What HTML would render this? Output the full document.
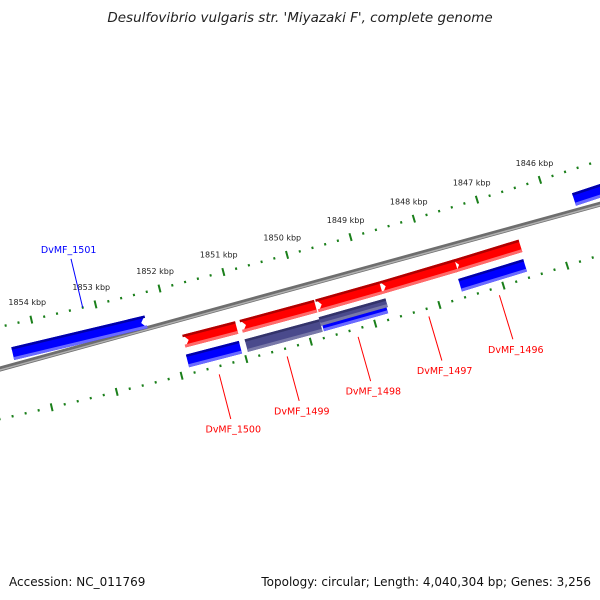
<!DOCTYPE html>
<html><head><meta charset="utf-8"><style>
html,body{margin:0;padding:0;background:#fff}
svg{display:block;font-family:"DejaVu Sans","Liberation Sans",sans-serif}
</style></head><body>
<svg id="map" width="600" height="600" viewBox="0 0 600 600">
<text x="300" y="22" text-anchor="middle" font-size="13.5" font-style="italic" fill="#222">Desulfovibrio vulgaris str. 'Miyazaki F', complete genome</text>
<text x="9" y="586" font-size="12" fill="#111">Accession: NC_011769</text>
<text x="591" y="586" text-anchor="end" font-size="12" fill="#111">Topology: circular; Length: 4,040,304 bp; Genes: 3,256</text>
<g id="ticks"></g><g id="backbone"></g><g id="genes"></g><g id="labels"></g>
</svg>
<script>
const tickMajor = [1846, 1847, 1848, 1849, 1850, 1851, 1852, 1853, 1854, 1855];
const tickLabels = ["1846 kbp","1847 kbp","1848 kbp","1849 kbp","1850 kbp","1851 kbp","1852 kbp","1853 kbp","1854 kbp",""];
const geneStart = [1854.39, 1851.84, 1851.86, 1850.95, 1849.77, 1849.77, 1848.77, 1847.62, 1847.62, 1845.6];
const geneEnd   = [1852.32, 1851.02, 1851.04, 1849.79, 1848.77, 1848.77, 1847.59, 1846.58, 1846.60, 1844.5];
const geneRing  = [-17, 11, 31, 11, 31, 11, 11, 11, 31, -17];
const geneColor = ["blue","red","blue","red","blue","red","red","red","blue","blue"];
const geneArrow = ["right","left","none","left","none","left","left","left","none","none"];
const geneNames = ["1501","1500r","1500b","1499r","1498b","1498r","1497r","1496r","1496b","1495b"];
const purpleStart = [1850.95, 1849.79];
const purpleEnd = [1849.79, 1848.75];
const purpleRing = [31, 27];
const labelNames = ["DvMF_1501","DvMF_1500","DvMF_1499","DvMF_1498","DvMF_1497","DvMF_1496"];
const labelKbp = [1853.2, 1851.45, 1850.4, 1849.3, 1848.2, 1847.1];
const labelColor = ["blue","red","red","red","red","red"];

const CX=-1449, CY=-6065, R=6600, T0=74.64*Math.PI/180, K=0.5765*Math.PI/180;
const NS="http://www.w3.org/2000/svg";
function ang(kbp){return T0+(kbp-1850)*K;}
function pt(kbp,off){const a=ang(kbp),r=R+off;return [CX+r*Math.cos(a),CY+r*Math.sin(a)];}
function mk(tag,parent,attrs){const e=document.createElementNS(NS,tag);for(const k in attrs)e.setAttribute(k,attrs[k]);document.getElementById(parent).appendChild(e);return e;}
function P(p){return p[0].toFixed(1)+","+p[1].toFixed(1);}

{const a=pt(1856,0),b=pt(1844,0);
let e=mk('line','backbone',{x1:a[0],y1:a[1],x2:b[0],y2:b[1],stroke:'#6e6e6e','stroke-width':5});


const c=pt(1856,1),d=pt(1844,1);
e=mk('line','backbone',{x1:c[0],y1:c[1],x2:d[0],y2:d[1],stroke:'#b0b0b0','stroke-width':1.5});

}

[-46,44].forEach(function(ring){
  for(let v=18440;v<=18560;v+=2){
    const kbp=v/10; const major=(v%10===0);
    const h=major?4:1.2;
    const a=pt(kbp,ring-h),b=pt(kbp,ring+h);
    if(a[0]<-10||a[0]>610)continue;
    const e=mk('line','ticks',{x1:a[0],y1:a[1],x2:b[0],y2:b[1],stroke:'#1a7f1a','stroke-width':2});
    
    
  }
});
tickMajor.forEach(function(k,i){
  if(!tickLabels[i])return;
  const p=pt(k,-64);
  const e=mk('text','ticks',{x:p[0],y:p[1]+3,'text-anchor':'middle','font-size':8,fill:'#222'});
  e.textContent=tickLabels[i];
  
  
});

const pal={red:['#b00000','#ff0000','#ff6a6a'],blue:['#0000a8','#0000ff','#6a6aff'],purple:['#33336a','#4a4a8c','#7878a8']};
function band(s,e,ring,h,color,arrow,name){
  const g=mk('g','genes',{});
  
  
  const c=pal[color];
  const tip=5/(R*K);
  function add(pts,fill){
    const el=document.createElementNS(NS,'polygon');
    el.setAttribute('points',pts.map(P).join(' '));el.setAttribute('fill',fill);g.appendChild(el);
  }
  const main=[];
  main.push(pt(s,ring-h));
  if(arrow==='left')main.push(pt(s-tip,ring));
  main.push(pt(s,ring+h)); main.push(pt(e,ring+h));
  if(arrow==='right')main.push(pt(e+tip,ring));
  main.push(pt(e,ring-h));
  add(main,c[1]);
  add([pt(s,ring-h),pt(s,ring-h+2.5),pt(e,ring-h+2.5),pt(e,ring-h)],c[0]);
  add([pt(s,ring+h-3),pt(s,ring+h),pt(e,ring+h),pt(e,ring+h-3)],c[2]);
}
geneStart.forEach(function(s,i){band(s,geneEnd[i],geneRing[i],6.5,geneColor[i],geneArrow[i],geneNames[i]);});
purpleStart.forEach(function(s,i){band(s,purpleEnd[i],purpleRing[i],i===0?6.5:4.5,'purple','none','purple-'+i);});

labelNames.forEach(function(n,i){
  const out=labelColor[i]==='blue';
  const a=pt(labelKbp[i],out?-46:52), b=pt(labelKbp[i],out?-96:98);
  const l=mk('line','labels',{x1:a[0],y1:a[1],x2:b[0],y2:b[1],stroke:labelColor[i],'stroke-width':1});
  
  
  const q=pt(labelKbp[i],out?-106:108);
  const t=mk('text','labels',{x:q[0],y:q[1]+4,'text-anchor':'middle','font-size':9.5,fill:labelColor[i]});
  t.textContent=n;
  
  
});
</script>
</body></html>
